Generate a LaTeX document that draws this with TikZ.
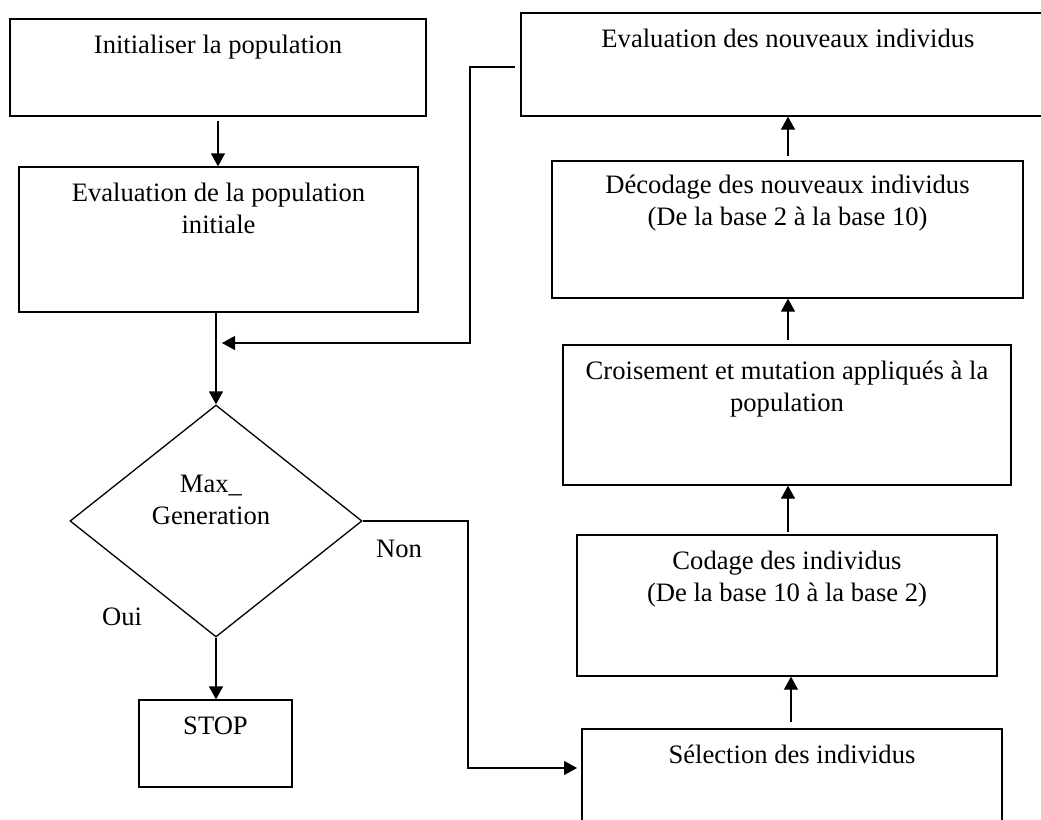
\documentclass[tikz,border=0pt]{standalone}
\usepackage{fontspec}
\setmainfont{Liberation Serif}
\usetikzlibrary{arrows.meta,shapes.geometric}
\begin{document}
\begin{tikzpicture}[x=1pt,y=-1pt,line width=1.3pt,
  box/.style={draw=black,rectangle,inner sep=0pt},
  decision/.style={draw=black,diamond,inner sep=0pt},
  txt/.style={font=\fontsize{26.6}{31.5}\selectfont,align=center,inner sep=0pt,anchor=north},
  lbl/.style={font=\fontsize{26.6}{31.5}\selectfont,inner sep=0pt,anchor=base},
  flow/.style={-{Triangle[length=13pt,width=14pt]}}]
\clip (0,0) rectangle (1041,819);
\fill[white] (0,0) rectangle (1041,819);

% left column
\node[box,minimum width=416pt,minimum height=97pt] (init) at (218,67.5) {};
\node[txt] (initT) at ([yshift=-12.5pt]init.north) {\strut Initialiser la population};

\node[box,minimum width=399pt,minimum height=145pt] (eval0) at (218.5,239.5) {};
\node[txt] (eval0T) at ([yshift=-12.5pt]eval0.north) {\strut Evaluation de la population\\initiale};

\node[decision,minimum width=292pt,minimum height=232pt] (test) at (216,521) {};
\node[txt] (testT) at (211,470) {\strut Max\_\\Generation};

\node[box,minimum width=153pt,minimum height=87pt] (stop) at (215.5,743.5) {};
\node[txt] (stopT) at ([yshift=-12.5pt]stop.north) {\strut STOP};

\node[lbl] (non) at (399,557) {Non};
\node[lbl] (oui) at (122,625) {Oui};

% right column
\node[box,minimum width=534pt,minimum height=103pt] (evalN) at (788,64.5) {};
\node[txt] (evalNT) at ([yshift=-12.5pt]evalN.north) {\strut Evaluation des nouveaux individus};

\node[box,minimum width=471pt,minimum height=137pt] (decod) at (787.5,229.5) {};
\node[txt] (decodT) at ([yshift=-10.5pt]decod.north) {\strut Décodage des nouveaux individus\\(De la base 2 à la base 10)};

\node[box,minimum width=448pt,minimum height=140pt] (crois) at (787,415) {};
\node[txt] (croisT) at ([yshift=-12.5pt]crois.north) {\strut Croisement et mutation appliqués à la\\population};

\node[box,minimum width=420pt,minimum height=141pt] (codage) at (787,605.5) {};
\node[txt] (codageT) at ([yshift=-12.5pt]codage.north) {\strut Codage des individus\\(De la base 10 à la base 2)};

\node[box,minimum width=420pt,minimum height=116pt] (sel) at (792,787) {};
\node[txt] (selT) at ([yshift=-12.5pt]sel.north) {\strut Sélection des individus};

% loop entry and exit points
\coordinate (fbStart) at (515,67);
\coordinate (fbIn) at (222,343);
\coordinate (selIn) at (577,768);

% connectors
\draw[flow,shorten <=4pt] (init.south) -- (init.south |- eval0.north);
\draw[flow] (eval0.south -| test.north) -- (test.north);
\draw[flow] (test.south) -- (test.south |- stop.north);
\draw[flow] (fbStart) -| (470,343) -- (fbIn);
\draw[flow] (test.east) -| (468,768) -- (selIn);

\draw[flow,shorten <=6pt] (791,0 |- sel.north) -- (791,0 |- codage.south);
\draw[flow,shorten <=2pt] (788,0 |- codage.north) -- (788,0 |- crois.south);
\draw[flow,shorten <=4pt] (788,0 |- crois.north) -- (788,0 |- decod.south);
\draw[flow,shorten <=4pt] (788,0 |- decod.north) -- (788,0 |- evalN.south);
\end{tikzpicture}
\end{document}
